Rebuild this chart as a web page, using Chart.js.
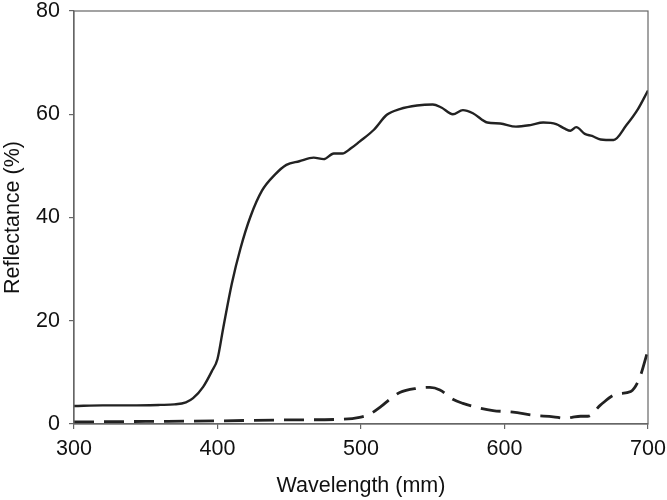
<!DOCTYPE html>
<html>
<head>
<meta charset="utf-8">
<script src="https://cdn.jsdelivr.net/npm/chart.js@4"></script>
<style>
html,body{margin:0;padding:0;background:#fff;}
#wrap{width:667px;height:500px;}
</style>
</head>
<body>
<div id="wrap"><canvas id="c" width="667" height="500"></canvas></div>
<script>
const solidWavelength = [300,320,340,360,370,378,383,390,396,400,404,410,416,423,431,440,448,457,467,474,481,487,493,499,509,518,527,539,550,556,564,571,578,588,597,608,618,627,636,642,646,650,656,661,667,676,685,693,700];
const solidReflectance = [3.5,3.6,3.6,3.7,3.8,4.2,5.0,7.2,10.2,12.6,18.6,27.2,34,40.2,45.2,48.3,50.2,50.9,51.6,51.3,52.4,52.4,53.4,54.7,57.0,59.9,61.0,61.7,61.9,61.3,60.0,60.8,60.2,58.4,58.2,57.6,57.9,58.4,58.1,57.2,56.8,57.5,56.2,55.8,55.1,55.0,57.9,61.0,64.6];
const dashedWavelength = [300,350,400,450,485,499,506,514,521,527,539,548,555,564,571,581,592,606,620,634,642,647,653,658,667,678,688,694,700];
const dashedReflectance = [0.4,0.5,0.6,0.8,0.9,1.3,1.9,3.4,5.0,6.1,6.9,7.1,6.6,4.8,4.0,3.2,2.6,2.3,1.7,1.4,1.1,1.3,1.5,1.5,3.7,5.8,6.3,8.8,14.3];
const xTicks = [300,400,500,600,700];
const yTicks = [0,20,40,60,80];

const toPts = (xs, ys) => xs.map((x, i) => ({x: x, y: ys[i]}));

const frame = {
  id: 'frame',
  afterDraw(chart) {
    const a = chart.chartArea, ctx = chart.ctx;
    ctx.save();
    ctx.strokeStyle = '#666';
    ctx.lineWidth = 1.2;
    ctx.strokeRect(a.left, a.top, a.right - a.left, a.bottom - a.top);
    ctx.restore();
  }
};

const font = {family: '"Liberation Sans", Arial, Helvetica, sans-serif', size: 21.5};

new Chart(document.getElementById('c'), {
  type: 'line',
  data: {
    datasets: [
      {data: toPts(solidWavelength, solidReflectance), borderColor: '#222', borderWidth: 2.4, pointRadius: 0, tension: 0.4, cubicInterpolationMode: 'monotone', fill: false},
      {data: toPts(dashedWavelength, dashedReflectance), borderColor: '#222', borderWidth: 2.8, borderDash: [20, 10], pointRadius: 0, tension: 0.4, cubicInterpolationMode: 'monotone', fill: false}
    ]
  },
  options: {
    responsive: false,
    animation: false,
    layout: {padding: {left: 0, right: 19, top: 11, bottom: 0}},
    plugins: {legend: {display: false}, tooltip: {enabled: false}},
    scales: {
      x: {
        type: 'linear', min: 300, max: 700,
        afterBuildTicks: (s) => { s.ticks = xTicks.map(v => ({value: v})); },
        afterFit: (s) => { s.height = 76; s.paddingLeft = 0; s.paddingRight = 0; },
        grid: {display: true, drawOnChartArea: false, drawTicks: true, tickLength: 5, color: '#666', lineWidth: 1.2},
        border: {display: true, color: '#666', width: 1.2},
        ticks: {color: '#111', font: font, padding: 7, maxRotation: 0},
        title: {display: true, text: 'Wavelength (mm)', color: '#111', font: font, padding: {top: 0, bottom: 1}}
      },
      y: {
        type: 'linear', min: 0, max: 80,
        afterBuildTicks: (s) => { s.ticks = yTicks.map(v => ({value: v})); },
        afterFit: (s) => { s.width = 74; s.paddingTop = 0; s.paddingBottom = 0; },
        grid: {display: true, drawOnChartArea: false, drawTicks: true, tickLength: 5, color: '#666', lineWidth: 1.2},
        border: {display: true, color: '#666', width: 1.2},
        ticks: {color: '#111', font: font, padding: 9},
        title: {display: true, text: 'Reflectance (%)', color: '#111', font: font, padding: {top: 0, bottom: 2}}
      }
    }
  },
  plugins: [frame]
});
</script>
</body>
</html>
